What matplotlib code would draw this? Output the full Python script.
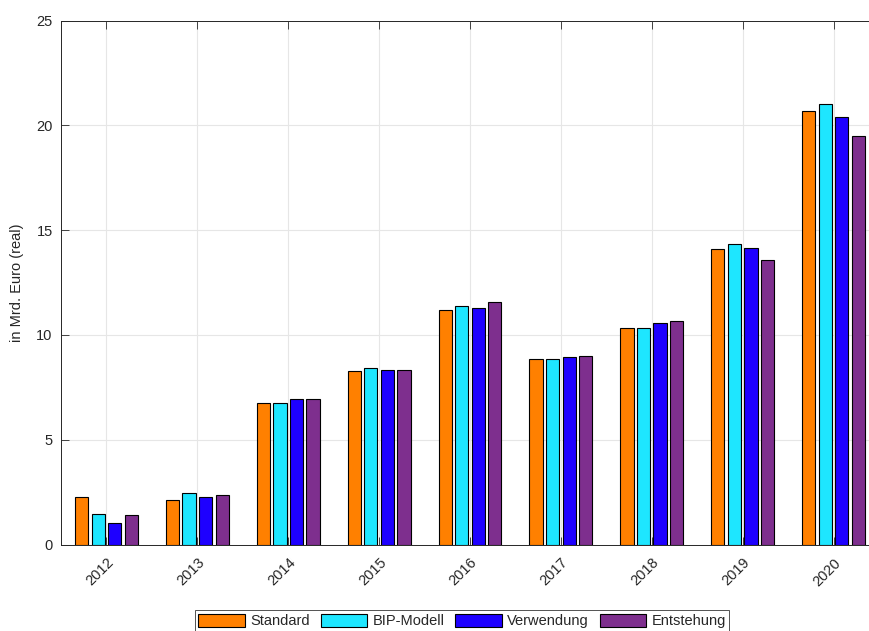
import numpy as np
import matplotlib
matplotlib.use("Agg")
import matplotlib.pyplot as plt

plt.rcParams["font.family"] = ["Liberation Sans", "DejaVu Sans"]

years = ["2012", "2013", "2014", "2015", "2016", "2017", "2018", "2019", "2020"]
series_names = ["Standard", "BIP-Modell", "Verwendung", "Entstehung"]
standard = [2.27, 2.11, 6.75, 8.28, 11.18, 8.87, 10.32, 14.09, 20.66]
bip_modell = [1.44, 2.44, 6.74, 8.41, 11.40, 8.87, 10.35, 14.36, 21.04]
verwendung = [1.04, 2.27, 6.96, 8.31, 11.29, 8.95, 10.56, 14.14, 20.41]
entstehung = [1.39, 2.36, 6.95, 8.31, 11.58, 9.00, 10.67, 13.59, 19.48]
colors = ["#ff8000", "#1ee6ff", "#1e00ff", "#7e2f8e"]

ink = "#262626"
fs = 10.5

fig = plt.figure(figsize=(8.69, 6.31), dpi=100)
ax = fig.add_axes([61 / 869, 86.5 / 631, 818 / 869, 524 / 631])

# grouped bars, matlab-style spacing
x = np.arange(1, len(years) + 1)
n = 4
group_w = n / (n + 1.5)
pitch = group_w / n
bar_w = pitch * 0.8
handles = []
for i, (vals, c) in enumerate(zip([standard, bip_modell, verwendung, entstehung], colors)):
    off = (i - (n - 1) / 2) * pitch
    h = ax.bar(x + off, vals, width=bar_w, color=c, edgecolor="black",
               linewidth=0.8, zorder=3, label=series_names[i])
    handles.append(h)

ax.set_xlim(0.5, 9.5)
ax.set_ylim(0, 25)
ax.set_yticks([0, 5, 10, 15, 20, 25])
ax.set_xticks(x)
ax.set_xticklabels(years, rotation=45, ha="right", rotation_mode="anchor",
                   fontsize=fs, color=ink)
ax.tick_params(axis="y", labelsize=fs, labelcolor=ink, pad=6)
ax.tick_params(axis="both", direction="in", length=6, width=0.6, color=ink,
               top=True, right=False)
ax.tick_params(axis="x", pad=8)
ax.grid(True, color="#e6e6e6", linewidth=0.8, zorder=0)
ax.set_axisbelow(True)
for s in ax.spines.values():
    s.set_color(ink)
    s.set_linewidth(0.7)
ax.spines["right"].set_visible(False)

ax.set_ylabel("in Mrd. Euro (real)", fontsize=fs, color=ink, labelpad=9)

leg = fig.legend(handles=handles, loc="upper center",
                 bbox_to_anchor=(462 / 869, 1 - 610 / 631), ncol=4,
                 fontsize=fs, frameon=True, fancybox=False,
                 handlelength=3.2, handleheight=1.0, handletextpad=0.35,
                 columnspacing=0.75, borderpad=0.25, borderaxespad=0)
leg.get_frame().set_edgecolor(ink)
leg.get_frame().set_linewidth(0.7)
for t in leg.get_texts():
    t.set_color(ink)

fig.savefig("out.png", dpi=100)
